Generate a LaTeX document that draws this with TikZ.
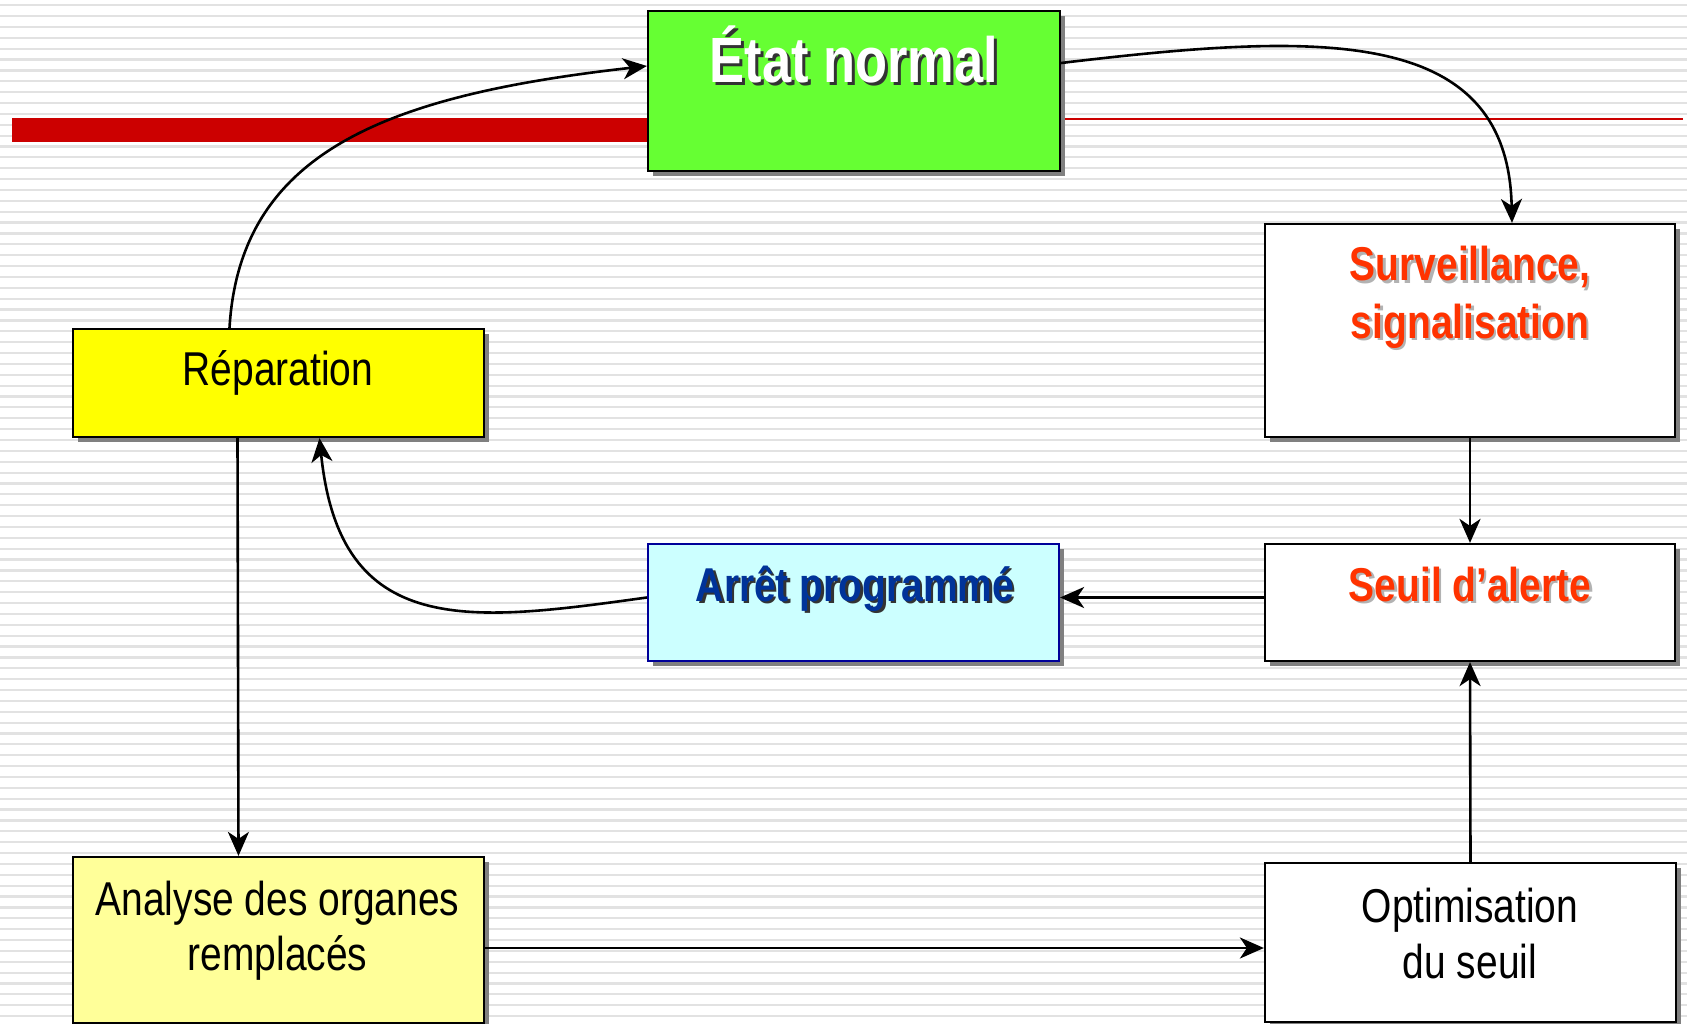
\documentclass[tikz,border=0pt]{standalone}
\usepackage{fontspec}
\setmainfont{Liberation Sans}[FakeStretch=0.82]
\usetikzlibrary{arrows.meta,shadows,calc}
\definecolor{stripegray}{RGB}{226,226,226}
\definecolor{barred}{RGB}{204,0,0}
\definecolor{boxgreen}{RGB}{102,255,51}
\definecolor{boxyellow}{RGB}{255,255,0}
\definecolor{boxlyellow}{RGB}{255,255,153}
\definecolor{boxcyan}{RGB}{204,255,255}
\definecolor{navyborder}{RGB}{0,0,153}
\definecolor{navytext}{RGB}{0,51,153}
\definecolor{orangetext}{RGB}{255,51,0}
\definecolor{shgray}{RGB}{128,128,128}
\newcommand{\shtext}[6]{%
  \node[txt,text=#5] (#1s) at ({#2+2.5},{#3+2.5}) {#6};
  \node[txt,text=#4] (#1) at (#2,#3) {#6};}
\begin{document}
\begin{tikzpicture}[x=1pt,y=-1pt,
  stripe/.style={stripegray,line width=2.2pt},
  box/.style={draw=black,line width=2.2pt,inner sep=0pt,
    drop shadow={shadow xshift=5pt,shadow yshift=-5pt,fill=shgray,opacity=1}},
  txt/.style={anchor=base,inner sep=0pt,font=\fontsize{47.5}{54}\selectfont},
  conn/.style={line width=2.6pt,draw=black,-{Stealth[length=24pt,width=21pt,inset=7pt]}}]
\useasboundingbox (0,0) rectangle (1687,1024);
\fill[white] (0,0) rectangle (1687,1024);
\foreach \i in {0,...,93} \draw[stripe] (0,{5.2+10.87*\i}) -- (1687,{5.2+10.87*\i});
% title bar
\fill[barred] (12,118) rectangle (660,142);
\draw[barred,line width=2pt] (12,119) -- (1683,119);
% boxes
\node[box,fill=boxgreen,minimum width=412pt,minimum height=160pt] (etat) at (854,91) {};
\node[box,fill=white,minimum width=410pt,minimum height=213pt] (surv) at (1470,330.5) {};
\node[box,fill=white,minimum width=410pt,minimum height=117pt] (seuil) at (1470,602.5) {};
\node[box,fill=boxcyan,draw=navyborder,minimum width=411pt,minimum height=117pt] (arret) at (853.5,602.5) {};
\node[box,fill=boxyellow,minimum width=411pt,minimum height=108pt] (repar) at (278.5,383) {};
\node[box,fill=boxlyellow,minimum width=411pt,minimum height=166pt] (analyse) at (278.5,940) {};
\node[box,fill=white,minimum width=411pt,minimum height=159pt] (optim) at (1470.5,942.5) {};
% texts
\node[txt,text=black!80,font=\bfseries\fontsize{64}{70}\selectfont] (etatts) at (857,86) {État normal};
\node[txt,text=white,font=\bfseries\fontsize{64}{70}\selectfont] (etatt) at (854,83) {État normal};
\shtext{survta}{1470}{281}{orangetext}{black!30}{\bfseries Surveillance,}
\shtext{survtb}{1470}{338}{orangetext}{black!30}{\bfseries signalisation}
\shtext{seuilt}{1470}{601}{orangetext}{black!30}{\bfseries Seuil d’alerte}
\shtext{arrett}{855}{601}{navytext}{black!80}{\bfseries Arrêt programmé}
\node[txt] (repart) at (278,385) {Réparation};
\node[txt] (analta) at (277.5,915) {Analyse des organes};
\node[txt] (analtb) at (277.5,970) {remplacés};
\node[txt] (optimta) at (1470,922) {Optimisation};
\node[txt] (optimtb) at (1470,978) {du seuil};
% connectors
\draw[conn] ($(repar.north)+(-49,0)$) .. controls (240,150) and (390,95) .. ($(etat.west)+(0,-25)$);
\draw[conn] ($(etat.east)+(0,-28)$) .. controls (1320,32) and (1508,25) .. ($(surv.north)+(42,0)$);
\draw[conn] (surv.south) -- (seuil.north);
\draw[conn] ($(seuil.west)+(0,-5)$) -- ($(arret.east)+(0,-5)$);
\draw[conn] (optim.north) -- (seuil.south);
\draw[conn] ($(arret.west)+(0,-5)$) .. controls (470,622) and (340,640) .. ($(repar.south)+(41,0)$);
\draw[conn] ($(repar.south)+(-41,0)$) -- ($(analyse.north)+(-40,0)$);
\draw[conn] ($(analyse.east)+(0,8)$) -- ($(optim.west)+(0,5.5)$);
\end{tikzpicture}
\end{document}
